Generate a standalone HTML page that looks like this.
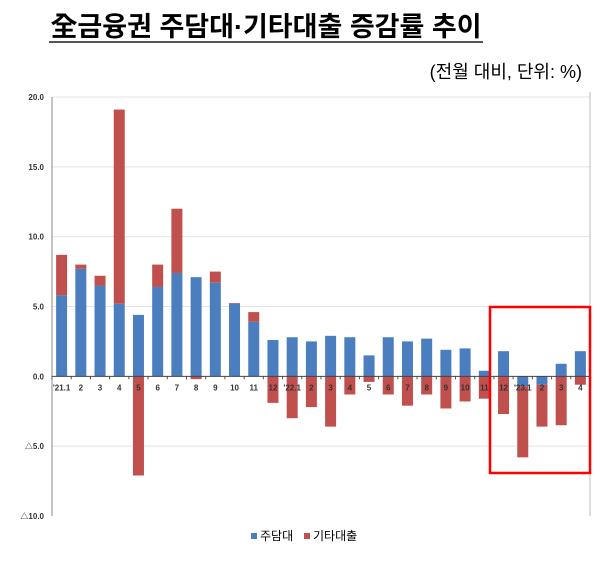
<!DOCTYPE html>
<html><head><meta charset="utf-8"><style>
body{margin:0;width:600px;height:557px;background:#fff;overflow:hidden;font-family:"Liberation Sans","Noto Sans CJK KR",sans-serif}
</style></head><body>
<svg id="c" width="600" height="557" xmlns="http://www.w3.org/2000/svg">
<text x="266" y="36" text-anchor="middle" font-size="27" font-weight="bold" font-family="Liberation Sans, Noto Sans CJK KR, sans-serif">全금융권 주담대·기타대출 증감률 추이</text>
<line x1="49" y1="42" x2="483" y2="42" stroke="#555" stroke-width="2"/>
<text x="582" y="78" text-anchor="end" font-size="18" font-family="Liberation Sans, Noto Sans CJK KR, sans-serif">(전월 대비, 단위: %)</text>
<g id="plot"></g>
<rect x="490" y="307" width="100" height="166" fill="none" stroke="#f00" stroke-width="2.5"/>
<g>
<rect x="251" y="533" width="6" height="6" fill="#4a7ebf"/>
<text x="260" y="540" font-size="12">주담대</text>
<rect x="304" y="533" width="6" height="6" fill="#c0504d"/>
<text x="313" y="540" font-size="12">기타대출</text>
</g>
</svg>
<script>
const categories=["'21.1","2","3","4","5","6","7","8","9","10","11","12","'22.1","2","3","4","5","6","7","8","9","10","11","12","'23.1","2","3","4"];
const mortgage=[5.8,7.7,6.5,5.2,4.4,6.4,7.4,7.1,6.7,5.2,3.9,2.6,2.8,2.5,2.9,2.8,1.5,2.8,2.5,2.7,1.9,2.0,0.4,1.8,-0.7,-0.6,0.9,1.8];
const otherLoans=[2.9,0.3,0.7,13.9,-7.1,1.6,4.6,-0.2,0.8,0.05,0.7,-1.9,-3.0,-2.2,-3.6,-1.3,-0.4,-1.3,-2.1,-1.3,-2.3,-1.8,-1.6,-2.7,-5.1,-3.0,-3.5,-0.6];
const yTicks=[20,15,10,5,0,-5,-10];
const yTickLabels=["20.0","15.0","10.0","5.0","0.0","△5.0","△10.0"];
const NS="http://www.w3.org/2000/svg";
const L=52,R=590,T=97,B=516,ymin=-10,ymax=20;
const y=v=>T+(ymax-v)/(ymax-ymin)*(B-T);
const step=(R-L)/categories.length;
const x=i=>L+step*(i+0.5);
const g=document.getElementById('plot');
function mk(t,a){const e=document.createElementNS(NS,t);for(const k in a)e.setAttribute(k,a[k]);g.appendChild(e);return e;}
yTicks.forEach((v,i)=>{
  if(v!==0&&v!==ymin){const gl=mk('line',{x1:L,x2:R,y1:y(v),y2:y(v),stroke:'#e4e4e4'});
  
  }
  const t=mk('text',{x:44,y:y(v)+3,'text-anchor':'end','font-size':8,'font-weight':'bold',fill:'#333'});
  t.textContent=yTickLabels[i];
  
  
});
const ax=mk('line',{x1:L,x2:L,y1:T,y2:B,stroke:'#888'});


const ar=mk('line',{x1:R,x2:R,y1:T-5,y2:B,stroke:'#bbb'});


const bw=11;
categories.forEach((c,i)=>{
  const m=mortgage[i],o=otherLoans[i];
  const by0=y(Math.max(m,0)),by1=y(Math.min(m,0));
  const b=mk('rect',{x:x(i)-bw/2,y:by0,width:bw,height:by1-by0,fill:'#4a7ebf'});
  
  
  let base;
  if(o>=0) base=Math.max(m,0); else base=Math.min(m,0);
  const a=base,e=base+o;
  const r=mk('rect',{x:x(i)-bw/2,y:y(Math.max(a,e)),width:bw,height:Math.abs(y(a)-y(e)),fill:'#c0504d'});
  
  
  const t=mk('text',{x:x(i),y:y(0)+14,'text-anchor':'middle','font-size':8,'font-weight':'bold',fill:'#333'});
  t.textContent=c;
  
  
  const tk=mk('line',{x1:L+step*i,x2:L+step*i,y1:y(0),y2:y(0)+3,stroke:'#555'});
  
  
});
const z=mk('line',{x1:L,x2:R,y1:y(0),y2:y(0),stroke:'#444'});


</script>
</body></html>
